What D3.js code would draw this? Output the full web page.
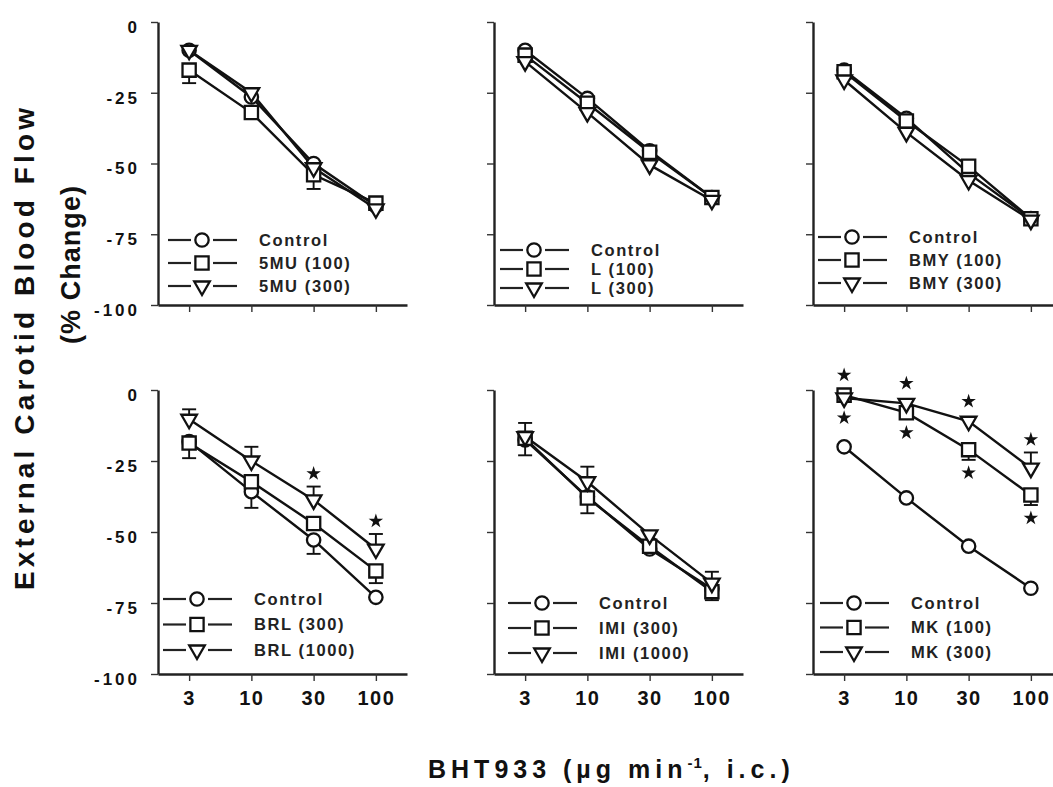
<!DOCTYPE html>
<html><head><meta charset="utf-8">
<script src="https://cdn.jsdelivr.net/npm/d3@7"></script>
<style>body{margin:0;background:#fff}</style>
</head><body>
<svg id="chart" width="1053" height="787"></svg>
<script>
// ---------- DATA ----------
const doses = ["3", "10", "30", "100"];
const yTicks = [0, -25, -50, -75, -100];

// Panel 1: 5MU
const labels5MU = ["Control", "5MU (100)", "5MU (300)"];
const control5MU = [-10, -26.5, -50, -65];
const mu5_100 = [-17, -32, -54, -64];
const mu5_300 = [-10, -25, -51.5, -66];
const err5MU = [[null, null, null, null], [-21.6, null, -59, null], [null, null, null, null]];

// Panel 2: L
const labelsL = ["Control", "L (100)", "L (300)"];
const controlL = [-10, -27, -45.5, -62];
const L100 = [-11.7, -28.7, -46, -62];
const L300 = [-14, -32, -50.5, -63];
const errL = [[null, null, null, null], [null, null, null, null], [null, null, null, null]];

// Panel 3: BMY
const labelsBMY = ["Control", "BMY (100)", "BMY (300)"];
const controlBMY = [-17, -34, -53.5, -69.5];
const BMY100 = [-17.6, -35, -51, -69.5];
const BMY300 = [-20.5, -39, -56, -70];
const errBMY = [[null, null, null, null], [null, null, null, null], [null, null, null, null]];

// Panel 4: BRL
const labelsBRL = ["Control", "BRL (300)", "BRL (1000)"];
const controlBRL = [-18.2, -35.8, -52.8, -73];
const BRL300 = [-18.7, -32.3, -47, -63.7];
const BRL1000 = [-10.3, -25, -38.7, -56];
const errBRL = [[-24, -41.5, -57.7, null], [null, null, null, -68], [-6.8, -20, -34, -50.7]];

// Panel 5: IMI
const labelsIMI = ["Control", "IMI (300)", "IMI (1000)"];
const controlIMI = [-17.6, -37.6, -56, -70];
const IMI300 = [-17, -38, -55, -71];
const IMI1000 = [-16.4, -32.3, -51, -68];
const errIMI = [[null, null, null, null], [-23, -43.4, null, -74], [-11.6, -27, null, -64]];

// Panel 6: MK
const labelsMK = ["Control", "MK (100)", "MK (300)"];
const controlMK = [-20, -38, -55, -69.8];
const MK100 = [-1.8, -8, -21, -37];
const MK300 = [-2.8, -4.7, -11, -27.5];
const errMK = [[null, null, null, null], [null, null, -24.6, -40.5], [null, null, null, -22]];

// significance marks: [series index, dose index, side]
const starsBRL = [[2, 2, "above"], [2, 3, "above"]];
const starsMK = [[1, 0, "above"], [2, 0, "below"], [2, 1, "above"], [1, 1, "below"],
                 [2, 2, "above"], [1, 2, "below"], [2, 3, "above"], [1, 3, "below"]];

const xTitle = "BHT933 (\u00b5g min";
const xTitleSup = "-1";
const xTitleEnd = ", i.c.)";
const yTitle1 = "External Carotid Blood Flow";
const yTitle2 = "(% Change)";

const panels = [
  {labels: labels5MU, values: [control5MU, mu5_100, mu5_300], errors: err5MU, stars: []},
  {labels: labelsL, values: [controlL, L100, L300], errors: errL, stars: []},
  {labels: labelsBMY, values: [controlBMY, BMY100, BMY300], errors: errBMY, stars: []},
  {labels: labelsBRL, values: [controlBRL, BRL300, BRL1000], errors: errBRL, stars: starsBRL},
  {labels: labelsIMI, values: [controlIMI, IMI300, IMI1000], errors: errIMI, stars: []},
  {labels: labelsMK, values: [controlMK, MK100, MK300], errors: errMK, stars: starsMK}
];

// ---------- LAYOUT ----------
const colX = [158, 494, 813];
const rowY = [[22, 305], [390, 674]];
const axisLen = 249;
const legendTop = [240, 250, 237, 599, 603, 603];
const legendGap = [23, 19, 23, 25.5, 25, 24.5];
const legendDx = [10, 6, 5, 5, 14, 7];
const FONT = "'Liberation Sans', Arial, Helvetica, sans-serif";
const INK = "#111";

const svg = d3.select("#chart");
svg.append("rect").attr("width", 1053).attr("height", 787).attr("fill", "#fff");

const symTypes = [d3.symbolCircle, d3.symbolSquare, d3.symbolTriangle];
const symSizes = [140, 175, 105];
function marker(sel, k) {
  sel.attr("d", d3.symbol().type(symTypes[k]).size(symSizes[k])())
    .attr("fill", "#fff").attr("stroke", INK).attr("stroke-width", 2.3);
}
function place(k, px, py) {
  return k === 2 ? `translate(${px},${py}) rotate(180)` : `translate(${px},${py})`;
}

panels.forEach((p, i) => {
  const col = i % 3, row = Math.floor(i / 3);
  const x0 = colX[col];
  const x = d3.scalePoint().domain(doses).range([x0, x0 + axisLen]).padding(0.5);
  const y = d3.scaleLinear().domain([0, -100]).range(rowY[row]);
  const g = svg.append("g");

  // y axis
  const ya = g.append("g").attr("transform", `translate(${x0},0)`)
    .call(d3.axisLeft(y).tickValues(yTicks).tickSize(7).tickSizeOuter(0).tickPadding(11)
      .tickFormat(col === 0 ? (d => String(d)) : () => ""));
  // x axis
  const xa = g.append("g").attr("transform", `translate(0,${rowY[row][1]})`)
    .call(d3.axisBottom(x).tickSize(7).tickSizeOuter(0).tickPadding(10)
      .tickFormat(row === 1 ? (d => d) : () => ""));
  [ya, xa].forEach(a => {
    a.select(".domain").attr("stroke", "#222").attr("stroke-width", 2.4);
    a.selectAll(".tick line").attr("stroke", "#333").attr("stroke-width", 1.4);
  });
  ya.selectAll(".tick text").attr("font-family", FONT).attr("font-weight", "bold")
    .attr("font-size", 17).attr("letter-spacing", 3).attr("fill", "#111").attr("y", 5);
  xa.selectAll(".tick text").attr("font-family", FONT).attr("font-weight", "bold")
    .attr("font-size", 20).attr("letter-spacing", 1.5).attr("fill", "#111");

  // lines
  const line = d3.line().x((d, j) => x(doses[j])).y(d => y(d));
  p.values.forEach(vals => {
    g.append("path").datum(vals).attr("d", line).attr("fill", "none")
      .attr("stroke", INK).attr("stroke-width", 2.4);
  });
  // error bars
  p.errors.forEach((errs, k) => {
    errs.forEach((e, j) => {
      if (e === null) return;
      const cx = x(doses[j]);
      g.append("line").attr("x1", cx).attr("x2", cx).attr("y1", y(p.values[k][j])).attr("y2", y(e))
        .attr("stroke", INK).attr("stroke-width", 1.9);
      g.append("line").attr("x1", cx - 7).attr("x2", cx + 7).attr("y1", y(e)).attr("y2", y(e))
        .attr("stroke", INK).attr("stroke-width", 1.9);
    });
  });
  // markers
  p.values.forEach((vals, k) => {
    g.selectAll(null).data(vals).enter().append("path")
      .call(marker, k)
      .attr("transform", (d, j) => place(k, x(doses[j]), y(d)));
  });
  // stars
  p.stars.forEach(([k, j, side]) => {
    const v = p.values[k][j], e = p.errors[k][j];
    const cx = x(doses[j]);
    let sy;
    if (side === "above") {
      sy = Math.min(y(v) - 7, e === null ? Infinity : y(e)) - 13;
    } else {
      sy = Math.max(y(v) + 7, e === null ? -Infinity : y(e)) + 13;
    }
    g.append("path").attr("d", d3.symbol().type(d3.symbolStar).size(65)())
      .attr("transform", `translate(${cx},${sy})`).attr("fill", INK);
  });
  // legend
  p.labels.forEach((lab, k) => {
    const ly = legendTop[i] + k * legendGap[i];
    const lx = x0 + legendDx[i];
    g.append("line").attr("x1", lx).attr("x2", lx + 23).attr("y1", ly).attr("y2", ly)
      .attr("stroke", "#222").attr("stroke-width", 2.2);
    g.append("line").attr("x1", lx + 45).attr("x2", lx + 69).attr("y1", ly).attr("y2", ly)
      .attr("stroke", "#222").attr("stroke-width", 2.2);
    g.append("path").call(marker, k).attr("transform", place(k, lx + 34, ly));
    g.append("text").attr("x", lx + 91).attr("y", ly).attr("dy", "0.36em")
      .attr("font-family", FONT).attr("font-weight", "bold").attr("font-size", 16.5)
      .attr("letter-spacing", 1.6).attr("fill", "#222").text(lab);
  });
});

// axis titles
const yt = svg.append("g").attr("font-family", FONT).attr("font-weight", "bold").attr("fill", "#111");
yt.append("text").attr("transform", "translate(34,349) rotate(-90)").attr("text-anchor", "middle")
  .attr("font-size", 28).attr("textLength", 482).attr("lengthAdjust", "spacing").text(yTitle1);
yt.append("text").attr("transform", "translate(80,265) rotate(-90)").attr("text-anchor", "middle")
  .attr("font-size", 27).attr("textLength", 158).attr("lengthAdjust", "spacing").text(yTitle2);

const xt = svg.append("text").attr("x", 428).attr("y", 778)
  .attr("font-family", FONT).attr("font-weight", "bold").attr("font-size", 25)
  .attr("letter-spacing", 5).attr("fill", "#111");
xt.append("tspan").text(xTitle);
xt.append("tspan").attr("font-size", 15).attr("dy", -10).attr("letter-spacing", 1).text(xTitleSup);
xt.append("tspan").attr("dy", 10).text(xTitleEnd);
</script>
</body></html>
